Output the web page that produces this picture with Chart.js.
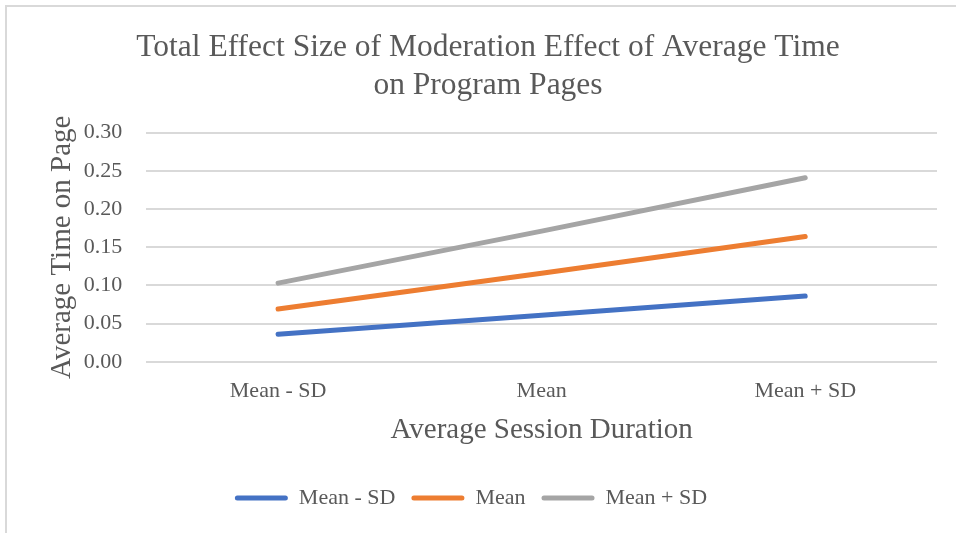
<!DOCTYPE html>
<html>
<head>
<meta charset="utf-8">
<script src="https://cdn.jsdelivr.net/npm/chart.js@4.4.0/dist/chart.umd.min.js"></script>
<style>
  html, body { margin: 0; padding: 0; background: #fff; }
  #frame {
    position: absolute; left: 5px; top: 5px; width: 951px; height: 528px;
    border-left: 2px solid #d9d9d9; border-top: 2px solid #d9d9d9;
  }
  #wrap { position: absolute; left: 0; top: 0; width: 949px; height: 526px; }
</style>
</head>
<body>
<div id="frame"><div id="wrap"><canvas id="effectChart"></canvas></div></div>
<script>
// categories along the x axis
var categories = ['Mean - SD', 'Mean', 'Mean + SD']
// one line per moderator level
var lowValues = [0.036, 0.061, 0.086]
var meanValues = [0.069, 0.116, 0.164]
var highValues = [0.103, 0.171, 0.241]
var seriesNames = ['Mean - SD', 'Mean', 'Mean + SD']
var yTicks = [0, 0.05, 0.10, 0.15, 0.20, 0.25, 0.30]

var colors = ['#4472c4', '#ed7d31', '#a5a5a5']
var serif = "'Liberation Serif', 'Times New Roman', serif"
var textColor = '#595959'

function makeLine(name, values, color) {
    return {
        label: name,
        data: values,
        borderColor: color,
        backgroundColor: color,
        borderWidth: 5,
        borderCapStyle: 'round',
        pointRadius: 0,
        tension: 0
    }
}

// the legend sits a little left of the title, as in the original
var legendShift = {
    id: 'legendShift',
    afterLayout: function (c) {
        if (c.legend) {
            c.legend.left -= 17
            c.legend.right -= 17
        }
    }
}

var ctx = document.getElementById('effectChart')
var chart = new Chart(ctx, {
    type: 'line',
    data: {
        labels: categories,
        datasets: [
            makeLine(seriesNames[0], lowValues, colors[0]),
            makeLine(seriesNames[1], meanValues, colors[1]),
            makeLine(seriesNames[2], highValues, colors[2])
        ]
    },
    plugins: [legendShift],
    options: {
        responsive: true,
        maintainAspectRatio: false,
        animation: false,
        layout: { padding: { left: 32, right: 19, top: 0, bottom: 14 } },
        plugins: {
            title: {
                display: true,
                text: ['Total Effect Size of Moderation Effect of Average Time', 'on Program Pages'],
                color: textColor,
                font: { family: serif, size: 31.5, weight: 'normal', lineHeight: 1.2 },
                padding: { top: 22, bottom: 28 }
            },
            legend: {
                position: 'bottom',
                labels: {
                    color: textColor,
                    font: { family: serif, size: 22 },
                    boxWidth: 53,
                    boxHeight: 5,
                    padding: 16,
                    useBorderRadius: true,
                    borderRadius: 2.5,
                    generateLabels: function (c) {
                        var items = Chart.defaults.plugins.legend.labels.generateLabels(c)
                        items.forEach(function (it) {
                            it.fillStyle = it.strokeStyle
                            it.strokeStyle = 'rgba(0,0,0,0)'
                            it.lineWidth = 0
                        })
                        return items
                    }
                }
            },
            tooltip: { enabled: false }
        },
        scales: {
            x: {
                offset: true,
                grid: { display: false, drawTicks: false },
                border: { display: false },
                ticks: { color: textColor, font: { family: serif, size: 22 }, padding: 16 },
                title: {
                    display: true,
                    text: 'Average Session Duration',
                    color: textColor,
                    font: { family: serif, size: 29 },
                    padding: { top: -7, bottom: 23 }
                }
            },
            y: {
                min: 0,
                max: 0.30,
                afterBuildTicks: function (axis) {
                    axis.ticks = yTicks.map(function (v) { return { value: v } })
                },
                grid: { color: '#d9d9d9', lineWidth: 2, drawTicks: false },
                border: { display: false },
                ticks: {
                    color: textColor,
                    font: { family: serif, size: 22 },
                    padding: 24,
                    callback: function (v) { return v.toFixed(2) }
                },
                title: {
                    display: true,
                    text: 'Average Time on Page',
                    color: textColor,
                    font: { family: serif, size: 29 },
                    padding: { top: 6, bottom: -20 }
                }
            }
        }
    }
})
</script>
</body>
</html>
